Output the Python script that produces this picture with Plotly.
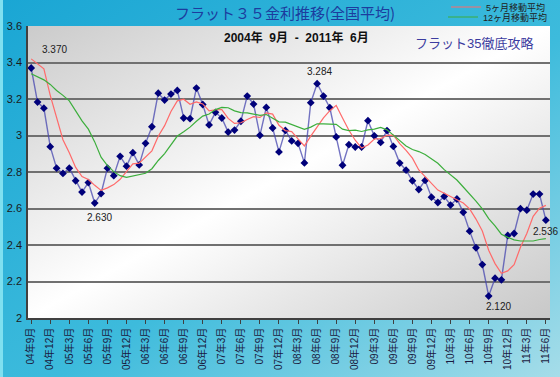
import base64
import plotly.graph_objects as go

months = ["04年9月","04年10月","04年11月","04年12月",
          "05年1月","05年2月","05年3月","05年4月","05年5月","05年6月","05年7月","05年8月","05年9月","05年10月","05年11月","05年12月",
          "06年1月","06年2月","06年3月","06年4月","06年5月","06年6月","06年7月","06年8月","06年9月","06年10月","06年11月","06年12月",
          "07年1月","07年2月","07年3月","07年4月","07年5月","07年6月","07年7月","07年8月","07年9月","07年10月","07年11月","07年12月",
          "08年1月","08年2月","08年3月","08年4月","08年5月","08年6月","08年7月","08年8月","08年9月","08年10月","08年11月","08年12月",
          "09年1月","09年2月","09年3月","09年4月","09年5月","09年6月","09年7月","09年8月","09年9月","09年10月","09年11月","09年12月",
          "10年1月","10年2月","10年3月","10年4月","10年5月","10年6月","10年7月","10年8月","10年9月","10年10月","10年11月","10年12月",
          "11年1月","11年2月","11年3月","11年4月","11年5月","11年6月"]

rate = [3.370, 3.183, 3.150, 2.939, 2.821, 2.792, 2.821, 2.752, 2.690, 2.742,
        2.630, 2.682, 2.821, 2.780, 2.886, 2.832, 2.906, 2.839, 2.957, 3.048,
        3.232, 3.194, 3.227, 3.247, 3.096, 3.092, 3.260, 3.170, 3.058, 3.127,
        3.096, 3.019, 3.030, 3.078, 3.216, 3.172, 3.001, 3.154, 3.041, 2.910,
        3.028, 2.970, 2.957, 2.850, 3.180, 3.284, 3.216, 3.152, 2.992, 2.837,
        2.950, 2.937, 2.937, 3.081, 2.998, 2.962, 3.027, 2.940, 2.849, 2.810,
        2.752, 2.704, 2.754, 2.662, 2.633, 2.666, 2.619, 2.652, 2.579, 2.476,
        2.385, 2.293, 2.120, 2.218, 2.209, 2.452, 2.463, 2.599, 2.591, 2.679,
        2.679, 2.536]

ma5 = [3.420, 3.393, 3.365, 3.220, 3.093, 2.977, 2.905, 2.825, 2.775, 2.759,
       2.727, 2.699, 2.713, 2.731, 2.760, 2.800, 2.845, 2.849, 2.884, 2.916,
       2.996, 3.054, 3.132, 3.190, 3.199, 3.171, 3.184, 3.173, 3.135, 3.141,
       3.142, 3.094, 3.066, 3.070, 3.088, 3.103, 3.099, 3.124, 3.117, 3.056,
       3.027, 3.021, 2.981, 2.943, 2.997, 3.048, 3.097, 3.136, 3.165, 3.096,
       3.029, 2.974, 2.931, 2.948, 2.981, 2.983, 3.001, 3.002, 2.955, 2.918,
       2.876, 2.811, 2.774, 2.736, 2.701, 2.684, 2.667, 2.646, 2.630, 2.598,
       2.542, 2.477, 2.371, 2.298, 2.245, 2.258, 2.292, 2.388, 2.463, 2.557,
       2.602, 2.617]

ma12 = [3.338, 3.320, 3.305, 3.280, 3.247, 3.220, 3.190, 3.135, 3.080, 3.035,
        2.965, 2.881, 2.835, 2.802, 2.780, 2.771, 2.778, 2.782, 2.793, 2.818,
        2.863, 2.901, 2.950, 2.997, 3.020, 3.046, 3.078, 3.106, 3.118, 3.142,
        3.154, 3.152, 3.135, 3.125, 3.124, 3.118, 3.110, 3.115, 3.097, 3.075,
        3.073, 3.060, 3.048, 3.034, 3.046, 3.064, 3.064, 3.062, 3.061, 3.035,
        3.027, 3.029, 3.022, 3.031, 3.035, 3.044, 3.031, 3.002, 2.972, 2.943,
        2.923, 2.912, 2.896, 2.873, 2.848, 2.813, 2.782, 2.756, 2.718, 2.680,
        2.641, 2.598, 2.545, 2.505, 2.459, 2.442, 2.428, 2.422, 2.420, 2.422,
        2.430, 2.435]

tick_labels = ["04年9月","04年12月","05年3月","05年6月","05年9月","05年12月",
               "06年3月","06年6月","06年9月","06年12月","07年3月","07年6月",
               "07年9月","07年12月","08年3月","08年6月","08年9月","08年12月",
               "09年3月","09年6月","09年9月","09年12月","10年3月","10年6月",
               "10年9月","10年12月","11年3月","11年6月"]

# labelled points: (month, text offset x px, text offset y px)
labelled = [("04年9月", 23, 18), ("05年7月", 5, -14), ("08年6月", 2, 12),
            ("10年9月", 10, -10), ("11年6月", 0, -11)]

JP = "Liberation Sans, Noto Sans CJK JP, sans-serif"


def svg_uri(svg):
    return "data:image/svg+xml;base64," + base64.b64encode(svg.encode()).decode()


outer_svg = ('<svg xmlns="http://www.w3.org/2000/svg" width="560" height="377" preserveAspectRatio="none">'
             '<defs><linearGradient id="g" x1="0" y1="0" x2="1" y2="1">'
             '<stop offset="0" stop-color="#1aa6d4"/><stop offset="0.55" stop-color="#3dbbdc"/>'
             '<stop offset="1" stop-color="#a6dde9"/></linearGradient></defs>'
             '<rect width="560" height="377" fill="url(#g)"/>'
             '<rect x="0" y="0" width="3" height="377" fill="#7fe0f0"/></svg>')

inner_svg = ('<svg xmlns="http://www.w3.org/2000/svg" width="522" height="292" preserveAspectRatio="none">'
             '<defs><linearGradient id="p" x1="0" y1="0" x2="1" y2="1">'
             '<stop offset="0" stop-color="#cbcbcb"/><stop offset="0.5" stop-color="#ffffff"/>'
             '<stop offset="1" stop-color="#c8c8c8"/></linearGradient></defs>'
             '<rect width="522" height="292" fill="url(#p)"/></svg>')

W, H = 560, 377
L, R, T, B = 28, 10, 26, 59
pw, ph = W - L - R, H - T - B

fig = go.Figure()

fig.add_trace(go.Scatter(x=months, y=rate, mode="lines+markers", showlegend=False,
                         line=dict(color="rgba(70,70,175,0.75)", width=1.4),
                         marker=dict(symbol="diamond", size=6, color="#00007a")))
fig.add_trace(go.Scatter(x=months, y=ma5, mode="lines", name="5ヶ月移動平均",
                         legend="legend",
                         line=dict(color="#ff6a6a", width=1.2)))
fig.add_trace(go.Scatter(x=months, y=ma12, mode="lines", name="12ヶ月移動平均",
                         legend="legend2",
                         line=dict(color="#3cae3c", width=1.2)))

annotations = []
for m, dx, dy in labelled:
    v = rate[months.index(m)]
    annotations.append(dict(x=m, y=v, xref="x", yref="y", text=f"{v:.3f}", showarrow=False,
                            xshift=dx, yshift=dy, yanchor="middle", xanchor="center",
                            font=dict(family=JP, size=10, color="#202020")))

annotations += [
    dict(text="フラット３５金利推移(全国平均)", xref="paper", yref="paper",
         x=(285 - L) / pw, y=1 + (T - 13) / ph, showarrow=False,
         yanchor="middle", xanchor="center",
         font=dict(family="Noto Sans CJK JP", size=15, color="#1c3c9e")),
    dict(text="<b>2004年  9月  -  2011年  6月</b>", xref="paper", yref="paper",
         x=(296 - L) / pw, y=1 - (37 - T) / ph, showarrow=False,
         yanchor="middle", xanchor="center",
         font=dict(family=JP, size=12, color="#111111")),
    dict(text="フラット35徹底攻略", xref="paper", yref="paper",
         x=(474 - L) / pw, y=1 - (43 - T) / ph, showarrow=False,
         yanchor="middle", xanchor="center",
         font=dict(family=JP, size=13, color="#3c3ca0")),
]

leg_common = dict(xanchor="left", yanchor="middle", bgcolor="rgba(0,0,0,0)",
                  font=dict(family=JP, size=9, color="#202020"),
                  itemwidth=30, tracegroupgap=0, borderwidth=0)

fig.update_layout(
    width=W, height=H,
    margin=dict(l=L, r=R, t=T, b=B, autoexpand=False),
    paper_bgcolor="#2fb4d8",
    plot_bgcolor="rgba(0,0,0,0)",
    images=[
        dict(source=svg_uri(outer_svg), xref="paper", yref="paper",
             x=-L / pw, y=1 + T / ph, sizex=W / pw, sizey=H / ph,
             sizing="stretch", layer="below", xanchor="left", yanchor="top"),
        dict(source=svg_uri(inner_svg), xref="paper", yref="paper",
             x=0, y=1, sizex=1, sizey=1,
             sizing="stretch", layer="below", xanchor="left", yanchor="top"),
    ],
    annotations=annotations,
    showlegend=True,
    legend=dict(x=(446 - L) / pw, y=1 + (T - 7) / ph, **leg_common),
    legend2=dict(x=(443 - L) / pw, y=1 + (T - 17) / ph, **leg_common),
    font=dict(family=JP),
)

fig.update_xaxes(type="category", categoryorder="array", categoryarray=months,
                 range=[-0.5, 81.65], tickvals=tick_labels, ticktext=tick_labels,
                 tickangle=-90, tickfont=dict(family=JP, size=10, color="#1a1a40"),
                 showgrid=False, showline=True, linecolor="#404040", linewidth=1.5,
                 ticks="outside", ticklen=4, tickcolor="#404040", zeroline=False,
                 automargin=False)
fig.update_yaxes(range=[2, 3.6], dtick=0.2, tick0=2,
                 tickfont=dict(family=JP, size=11, color="#1a1a1a"),
                 showgrid=True, gridcolor="#707070", gridwidth=1.5,
                 showline=True, linecolor="#404040", linewidth=1.5, zeroline=False,
                 ticks="", ticklabelstandoff=2, automargin=False)

fig.write_html("out.html", config={"displayModeBar": False},
               post_script="document.body.style.margin='0';document.body.style.overflow='hidden';")
